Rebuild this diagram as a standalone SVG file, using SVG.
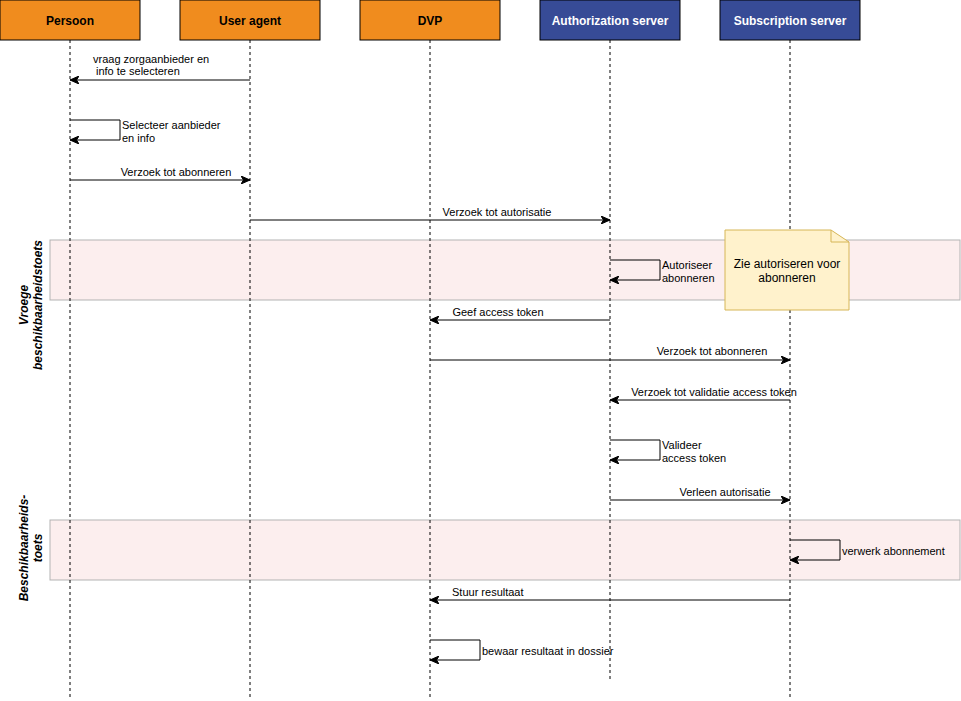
<svg xmlns="http://www.w3.org/2000/svg" width="961" height="701" viewBox="0 0 961 701">
<style>
.hdr{stroke:#000;stroke-width:1}
.or{fill:#F08C1E}
.bl{fill:#374B96}
.ht{font-family:"Liberation Sans",Arial,sans-serif;font-size:12px;font-weight:bold;text-anchor:middle}
.life{stroke:#000;stroke-width:1;stroke-dasharray:3 3;fill:none}
.band{fill:#FCEEEE;stroke:#B3B3B3;stroke-width:1}
.msg{stroke:#000;stroke-width:1;fill:none;marker-end:url(#ah)}
.lb{font-family:"Liberation Sans",Arial,sans-serif;font-size:11px;fill:#000}
.c{text-anchor:middle}
.side{font-family:"Liberation Sans",Arial,sans-serif;font-size:12px;font-weight:bold;font-style:italic;text-anchor:middle}
</style>
<defs>
<marker id="ah" markerWidth="10" markerHeight="8" refX="9" refY="4" orient="auto" markerUnits="userSpaceOnUse">
<path d="M0,0 L9,4 L0,8 L2.5,4 Z" fill="#000" stroke="#000" stroke-width="1" stroke-linejoin="miter"/>
</marker>
</defs>
<rect width="961" height="701" fill="#fff"/>
<g id="bands">
<rect class="band" x="50" y="240" width="910" height="60"/>
<rect class="band" x="50" y="520" width="910" height="60"/>
</g>
<g id="lifelines">
<line class="life" x1="70" y1="40" x2="70" y2="698"/>
<line class="life" x1="250" y1="40" x2="250" y2="698"/>
<line class="life" x1="430" y1="40" x2="430" y2="698"/>
<line class="life" x1="610" y1="40" x2="610" y2="680"/>
<line class="life" x1="790" y1="40" x2="790" y2="698"/>
</g>
<g id="persoon"><rect class="hdr or" x="0" y="0" width="140" height="40"/><text class="ht" x="70" y="25" fill="#000">Persoon</text></g>
<g id="useragent"><rect class="hdr or" x="180" y="0" width="140" height="40"/><text class="ht" x="250" y="25" fill="#000">User agent</text></g>
<g id="dvp"><rect class="hdr or" x="360" y="0" width="140" height="40"/><text class="ht" x="430" y="25" fill="#000">DVP</text></g>
<g id="authserver"><rect class="hdr bl" x="540" y="0" width="140" height="40"/><text class="ht" x="610" y="25" fill="#fff">Authorization server</text></g>
<g id="subserver"><rect class="hdr bl" x="720" y="0" width="140" height="40"/><text class="ht" x="790" y="25" fill="#fff">Subscription server</text></g>
<g id="label-vroege">
<text class="side" transform="translate(28,305) rotate(-90)"><tspan x="0" y="0">Vroege</tspan><tspan x="0" y="14">beschikbaarheidstoets</tspan></text>
</g>
<g id="label-beschikbaarheid">
<text class="side" transform="translate(28,548) rotate(-90)"><tspan x="0" y="0">Beschikbaarheids-</tspan><tspan x="0" y="14">toets</tspan></text>
</g>
<g id="note">
<path d="M725,230 L831,230 L849,242 L849,310 L725,310 Z" fill="#FFF2CC" stroke="#D6B656" stroke-width="1"/>
<path d="M831,230 L831,242 L849,242" fill="none" stroke="#D6B656" stroke-width="1"/>
<text class="lb c" style="font-size:12px" x="787" y="268">Zie autoriseren voor</text>
<text class="lb c" style="font-size:12px" x="787" y="282">abonneren</text>
</g>
<g id="connectors">
<line class="msg" x1="250" y1="80" x2="70" y2="80"/>
<text class="lb" x="93" y="63">vraag zorgaanbieder en</text>
<text class="lb" x="96" y="75">info te selecteren</text>
<path class="msg" d="M70,120 L120,120 L120,140 L70,140"/>
<text class="lb" x="122" y="129">Selecteer aanbieder</text>
<text class="lb" x="122" y="142">en info</text>
<line class="msg" x1="70" y1="180" x2="250" y2="180"/>
<text class="lb c" x="176" y="176">Verzoek tot abonneren</text>
<line class="msg" x1="250" y1="220" x2="610" y2="220"/>
<text class="lb c" x="497" y="216">Verzoek tot autorisatie</text>
<path class="msg" d="M610,260 L660,260 L660,280 L610,280"/>
<text class="lb" x="662" y="269">Autoriseer</text>
<text class="lb" x="662" y="282">abonneren</text>
<line class="msg" x1="610" y1="320" x2="430" y2="320"/>
<text class="lb c" x="498" y="316">Geef access token</text>
<line class="msg" x1="430" y1="360" x2="790" y2="360"/>
<text class="lb c" x="712" y="355">Verzoek tot abonneren</text>
<line class="msg" x1="790" y1="400" x2="610" y2="400"/>
<text class="lb c" x="714" y="396">Verzoek tot validatie access token</text>
<path class="msg" d="M610,440 L660,440 L660,460 L610,460"/>
<text class="lb" x="662" y="449">Valideer</text>
<text class="lb" x="662" y="462">access token</text>
<line class="msg" x1="610" y1="500" x2="790" y2="500"/>
<text class="lb c" x="725" y="496">Verleen autorisatie</text>
<path class="msg" d="M790,540 L840,540 L840,560 L790,560"/>
<text class="lb" x="842" y="555">verwerk abonnement</text>
<line class="msg" x1="790" y1="600" x2="430" y2="600"/>
<text class="lb" x="452" y="596">Stuur resultaat</text>
<path class="msg" d="M430,640 L480,640 L480,660 L430,660"/>
<text class="lb" x="482" y="655">bewaar resultaat in dossier</text>
</g>
</svg>
